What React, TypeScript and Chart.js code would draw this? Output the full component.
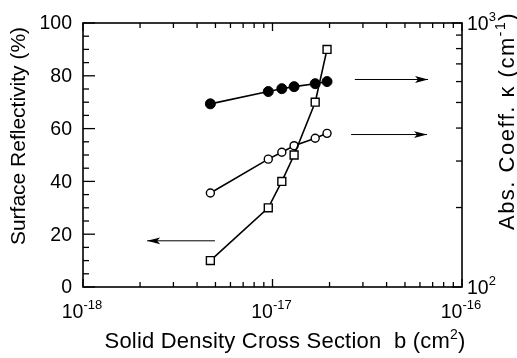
import { useEffect, useRef } from 'react';
import { Chart, registerables } from 'chart.js';
Chart.register(...registerables);

// ---- data ----
const crossSection = [4.7e-18, 9.5e-18, 1.12e-17, 1.3e-17, 1.68e-17, 1.94e-17];
const reflectivity = [10, 30, 40, 50, 70, 90];
const kappaSolid = [494, 550, 564, 574, 589, 600];
const kappaOpen = [227, 305, 324, 343, 366, 382];

const arrowSolidX = [2.72e-17, 6.62e-17];
const arrowSolidY = [611, 611];
const arrowOpenX = [2.6e-17, 6.54e-17];
const arrowOpenY = [378, 378];
const arrowLeftX = [4.97e-18, 2.18e-18];
const arrowLeftY = [17.5, 17.5];

const xDecades = [-18, -17, -16];
const leftTicks = [0, 20, 40, 60, 80, 100];
const leftMinorStep = 5;
const rightDecades = [2, 3];

const FONT = '"Liberation Sans", Arial, Helvetica, sans-serif';

type Seg = [string, boolean];

function drawRich(ctx: CanvasRenderingContext2D, segs: Seg[], x: number, y: number, align: 'left' | 'center' | 'right', base: number, sup: number, rise: number, spacing = 0) {
  ctx.textBaseline = 'alphabetic';
  ctx.textAlign = 'left';
  (ctx as any).letterSpacing = `${spacing}px`;
  const widths = segs.map(([t, s]) => {
    ctx.font = `${s ? sup : base}px ${FONT}`;
    return ctx.measureText(t).width;
  });
  const total = widths.reduce((a, b) => a + b, 0);
  let cx = align === 'left' ? x : align === 'center' ? x - total / 2 : x - total;
  segs.forEach(([t, s], i) => {
    ctx.font = `${s ? sup : base}px ${FONT}`;
    ctx.fillText(t, cx, s ? y - rise : y);
    cx += widths[i];
  });
  (ctx as any).letterSpacing = '0px';
}

const framePlugin = {
  id: 'frameAxes',
  afterDraw(chart: any) {
    const { ctx, chartArea } = chart;
    const { left, right, top, bottom } = chartArea;
    const xs = chart.scales.x;
    const ys = chart.scales.y;
    const y2 = chart.scales.y2;
    ctx.save();
    ctx.strokeStyle = '#000';
    ctx.fillStyle = '#000';
    ctx.lineWidth = 1.6;
    ctx.strokeRect(left, top, right - left, bottom - top);

    ctx.lineWidth = 1.3;
    const vt = (px: number, len: number) => {
      ctx.beginPath();
      ctx.moveTo(px, bottom); ctx.lineTo(px, bottom - len);
      ctx.moveTo(px, top); ctx.lineTo(px, top + len);
      ctx.stroke();
    };
    xDecades.forEach((d, i) => {
      const v = Number(`1e${d}`);
      vt(xs.getPixelForValue(v), 8);
      if (i < xDecades.length - 1) {
        for (let m = 2; m <= 9; m++) vt(xs.getPixelForValue(m * v), 5);
      }
    });
    // left ticks
    for (let v = leftTicks[0]; v <= leftTicks[leftTicks.length - 1]; v += leftMinorStep) {
      const py = ys.getPixelForValue(v);
      const len = leftTicks.includes(v) ? 12 : 6;
      ctx.beginPath(); ctx.moveTo(left, py); ctx.lineTo(left + len, py); ctx.stroke();
    }
    // right ticks
    rightDecades.forEach((d, i) => {
      const v = Number(`1e${d}`);
      const py = y2.getPixelForValue(v);
      ctx.beginPath(); ctx.moveTo(right, py); ctx.lineTo(right - 10, py); ctx.stroke();
      if (i < rightDecades.length - 1) {
        for (let m = 2; m <= 9; m++) {
          const pm = y2.getPixelForValue(m * v);
          ctx.beginPath(); ctx.moveTo(right, pm); ctx.lineTo(right - 6, pm); ctx.stroke();
        }
      }
    });

    // tick labels
    ctx.font = `19.5px ${FONT}`;
    ctx.textAlign = 'right';
    ctx.textBaseline = 'middle';
    leftTicks.forEach(v => ctx.fillText(String(v), 72, ys.getPixelForValue(v) + 1));

    xDecades.forEach(d => {
      drawRich(ctx, [['10', false], [String(d), true]], xs.getPixelForValue(Number(`1e${d}`)) - 1, 318, 'center', 19.5, 13, 9);
    });
    rightDecades.forEach(d => {
      drawRich(ctx, [['10', false], [String(d), true]], right + 5, y2.getPixelForValue(Number(`1e${d}`)) + 7, 'left', 19.5, 13, 9);
    });

    // axis titles
    drawRich(ctx, [['Solid Density Cross Section  b (cm', false], ['2', true], [')', false]], 285, 348, 'center', 22, 14, 9, 0.2);

    ctx.save();
    ctx.translate(25, 136);
    ctx.rotate(-Math.PI / 2);
    drawRich(ctx, [['Surface Reflectivity (%)', false]], 0, 0, 'center', 21, 14, 9);
    ctx.restore();

    ctx.save();
    ctx.translate(514, 121);
    ctx.rotate(-Math.PI / 2);
    drawRich(ctx, [['Abs. Coeff. \u03BA (cm', false], ['-1', true], [')', false]], 0, 0, 'center', 22, 14, 9, 1.5);
    ctx.restore();

    ctx.restore();
  },
  afterDatasetsDraw(chart: any) {
    const { ctx } = chart;
    chart.data.datasets.forEach((ds: any, i: number) => {
      if (!ds.isArrow) return;
      const pts = chart.getDatasetMeta(i).data;
      const p0 = pts[pts.length - 2];
      const p1 = pts[pts.length - 1];
      const ang = Math.atan2(p1.y - p0.y, p1.x - p0.x);
      const L = 13, W = 3.4;
      ctx.save();
      ctx.fillStyle = '#000';
      ctx.translate(p1.x, p1.y);
      ctx.rotate(ang);
      ctx.beginPath();
      ctx.moveTo(0, 0);
      ctx.lineTo(-L, -W);
      ctx.lineTo(-L + 3, 0);
      ctx.lineTo(-L, W);
      ctx.closePath();
      ctx.fill();
      ctx.restore();
    });
  },
};

function pts(xs: number[], ys: number[]) {
  return xs.map((x, i) => ({ x, y: ys[i] }));
}

export default function App() {
  const ref = useRef<HTMLCanvasElement>(null);
  useEffect(() => {
    if (!ref.current) return;
    const arrow = (xs: number[], ys: number[], axis: string) => ({
      data: pts(xs, ys),
      yAxisID: axis,
      showLine: true,
      borderColor: '#000',
      borderWidth: 1,
      pointRadius: 0,
      isArrow: true,
      order: 5,
    });
    const chart = new Chart(ref.current, {
      type: 'scatter',
      data: {
        datasets: [
          {
            label: 'Reflectivity',
            data: pts(crossSection, reflectivity),
            yAxisID: 'y',
            showLine: true,
            borderColor: '#000',
            borderWidth: 1.6,
            pointStyle: 'rect',
            pointRadius: 5.6,
            pointBorderWidth: 1.4,
            pointBackgroundColor: '#fff',
            pointBorderColor: '#000',
            order: 1,
          },
          {
            label: 'Kappa solid',
            data: pts(crossSection, kappaSolid),
            yAxisID: 'y2',
            showLine: true,
            borderColor: '#000',
            borderWidth: 1.6,
            pointStyle: 'circle',
            pointRadius: 5,
            pointBorderWidth: 1,
            pointBackgroundColor: '#000',
            pointBorderColor: '#000',
            order: 2,
          },
          {
            label: 'Kappa open',
            data: pts(crossSection, kappaOpen),
            yAxisID: 'y2',
            showLine: true,
            borderColor: '#000',
            borderWidth: 1.6,
            pointStyle: 'circle',
            pointRadius: 4,
            pointBorderWidth: 1.4,
            pointBackgroundColor: '#fff',
            pointBorderColor: '#000',
            order: 3,
          },
          arrow(arrowSolidX, arrowSolidY, 'y2'),
          arrow(arrowOpenX, arrowOpenY, 'y2'),
          arrow(arrowLeftX, arrowLeftY, 'y'),
        ] as any,
      },
      options: {
        animation: false,
        responsive: false,
        devicePixelRatio: 1,
        layout: { padding: { left: 83, top: 23, right: 55, bottom: 71 } },
        plugins: { legend: { display: false }, tooltip: { enabled: false } },
        scales: {
          x: { type: 'logarithmic', min: 1e-18, max: 1e-16, display: false },
          y: { type: 'linear', min: 0, max: 100, display: false },
          y2: { type: 'logarithmic', min: 100, max: 1000, display: false, position: 'right' },
        },
      } as any,
      plugins: [framePlugin],
    });
    return () => chart.destroy();
  }, []);
  return (
    <div style={{ position: 'absolute', left: 0, top: 0, width: 517, height: 358, background: '#fff' }}>
      <canvas ref={ref} width={517} height={358} />
    </div>
  );
}
